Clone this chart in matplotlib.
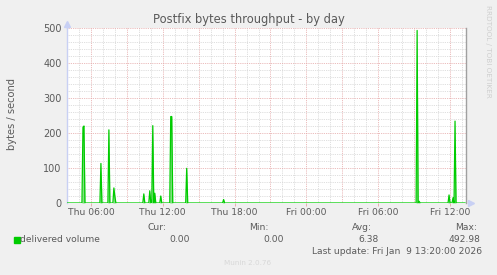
"""
Munin: Postfix bytes throughput - by day
Schreibt: out.png
"""
import matplotlib.pyplot as plt
import numpy as np

BG      = "#f0f0f0"
TEXT    = "#5a5a5a"
GRUEN   = "#00cc00"
FUELL   = "#7fe07f"
MINOR   = "#d4d4d4"
MAJOR   = "#e4a4a4"
ACHSE   = "#c8d0f4"
HELL    = "#cfcfcf"

# 400 Werte im 5-Minuten-Raster, Start Do 04:00
START_H = 4.0
N_SAMPLES = 400
SPIKE_TIMES = ["Thu 05:20", "Thu 05:25", "Thu 06:50", "Thu 07:30", "Thu 07:55",
               "Thu 08:00", "Thu 10:25", "Thu 10:55", "Thu 11:10", "Thu 11:20",
               "Thu 11:50", "Thu 12:40", "Thu 12:45", "Thu 14:00", "Thu 17:05",
               "Fri 09:15", "Fri 09:25", "Fri 11:55", "Fri 12:15", "Fri 12:25"]
SPIKE_VALUES = [216, 220, 113, 209, 43,
                18, 26, 35, 221, 28,
                20, 247, 247, 99, 10,
                493, 5, 23, 15, 234]

TICK_HOURS  = [6, 12, 18, 24, 30, 36]
TICK_LABELS = ["Thu 06:00", "Thu 12:00", "Thu 18:00",
               "Fri 00:00", "Fri 06:00", "Fri 12:00"]

LEGEND_NAME = "delivered volume"
STATS = [("Cur:", "0.00"), ("Min:", "0.00"), ("Avg:", "6.38"), ("Max:", "492.98")]


def _stunde(s):
    tag, hm = s.split()
    h, m = hm.split(":")
    return (24 if tag == "Fri" else 0) + int(h) + int(m) / 60


def serie():
    t = START_H + np.arange(N_SAMPLES) * 5 / 60
    v = np.zeros(N_SAMPLES)
    for s, val in zip(SPIKE_TIMES, SPIKE_VALUES):
        i = int(round((_stunde(s) - START_H) * 12))
        v[i] = val
    return t, v


def build():
    W, H = 497, 275
    fig = plt.figure(figsize=(W / 100, H / 100), dpi=100, facecolor=BG)
    ax = fig.add_axes([67 / W, (H - 203) / H, (466 - 67) / W, (203 - 28) / H])
    ax.set_facecolor("white")

    t, v = serie()
    t_end = START_H + N_SAMPLES * 5 / 60
    ax.set_xlim(START_H, t_end)
    ax.set_ylim(0, 500)

    # Gitter
    for h in np.arange(5, t_end, 1):
        ax.axvline(h, color=MAJOR if h % 3 == 0 else MINOR, lw=0.6,
                   ls=(0, (1, 1.2)), zorder=1)
    for y in range(20, 520, 20):
        ax.axhline(y, color=MAJOR if y % 100 == 0 else MINOR, lw=0.6,
                   ls=(0, (1, 1.2)), zorder=1)

    ax.fill_between(t, v, color=FUELL, lw=0, zorder=2)
    ax.plot(t, v, color=GRUEN, lw=0.9, zorder=3)

    ax.set_xticks(TICK_HOURS, TICK_LABELS)
    ax.set_yticks(range(0, 600, 100))
    ax.tick_params(axis="both", labelsize=6.6, colors=TEXT, length=2, width=0.6)
    ax.tick_params(axis="x", colors=MAJOR, labelcolor=TEXT, pad=1.5)
    ax.tick_params(axis="y", length=0, pad=4, labelsize=7)

    ax.spines["top"].set_visible(False)
    ax.spines["bottom"].set_visible(False)
    ax.spines["left"].set_color(ACHSE)
    ax.spines["left"].set_linewidth(1.0)
    ax.spines["right"].set_color("#a0a0a0")
    ax.spines["right"].set_linewidth(1.0)
    ax.plot([0], [1.025], marker="^", ms=4, color=ACHSE,
            transform=ax.transAxes, clip_on=False)
    ax.plot([1.012], [0], marker=">", ms=4, color=ACHSE,
            transform=ax.transAxes, clip_on=False)
    ax.plot([0, 0], [1.0, 1.02], color=ACHSE, lw=1.0,
            transform=ax.transAxes, clip_on=False)

    fig.text(249 / W, 1 - 20 / H, "Postfix bytes throughput - by day",
             ha="center", va="center", fontsize=8.3, color=TEXT)
    fig.text(12 / W, 1 - 114 / H, "bytes / second", rotation=90,
             ha="center", va="center", fontsize=7.1, color=TEXT)
    fig.text(488 / W, 1 - 5 / H, "RRDTOOL / TOBI OETIKER", rotation=270,
             ha="center", va="top", fontsize=5.2, color=HELL)

    # Legende
    fig.patches.append(plt.Rectangle((14 / W, 1 - 243 / H), 6 / W, 6 / H,
                                     transform=fig.transFigure, color=GRUEN))
    fig.text(20 / W, 1 - 239.5 / H, LEGEND_NAME, ha="left", va="center",
             fontsize=6.6, color=TEXT)
    kopf_x = [167, 269, 372, 477]
    wert_x = [190, 284, 379, 480]
    for (kopf, wert), kx, wx in zip(STATS, kopf_x, wert_x):
        fig.text(kx / W, 1 - 227.5 / H, kopf, ha="right", va="center",
                 fontsize=6.6, color=TEXT)
        fig.text(wx / W, 1 - 239.5 / H, wert, ha="right", va="center",
                 fontsize=6.6, color=TEXT)
    fig.text(482 / W, 1 - 251 / H, "Last update: Fri Jan  9 13:20:00 2026",
             ha="right", va="center", fontsize=6.6, color=TEXT)
    fig.text(248 / W, 1 - 263 / H, "Munin 2.0.76", ha="center", va="center",
             fontsize=5.2, color="#d8d8d8")

    fig.savefig("out.png", dpi=100, facecolor=BG)


if __name__ == "__main__":
    build()
